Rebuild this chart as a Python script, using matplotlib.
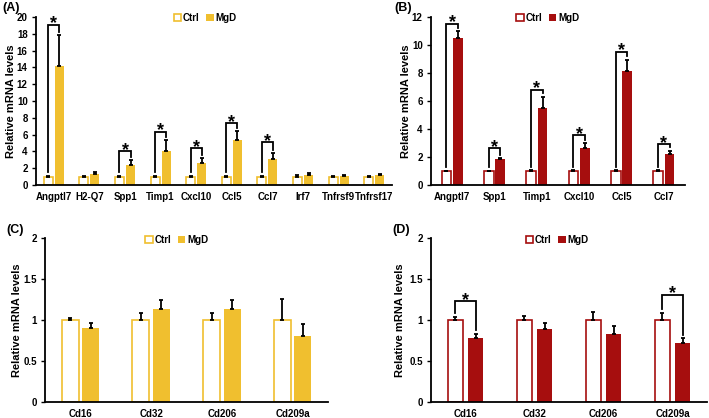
import numpy as np
import matplotlib
matplotlib.use('Agg')
import matplotlib.pyplot as plt
from matplotlib.ticker import FuncFormatter

plt.rcParams['font.family'] = ['Liberation Sans', 'DejaVu Sans']
plt.rcParams['font.weight'] = 'bold'

gold = '#F0BF2F'
red = '#A60E0E'

# (A) microglia-like genes, gold
genes_a = ['Angptl7', 'H2-Q7', 'Spp1', 'Timp1', 'Cxcl10', 'Ccl5', 'Ccl7', 'Irf7', 'Tnfrsf9', 'Tnfrsf17']
ctrl_a = [1, 1, 1, 1, 1, 1, 1, 1, 1, 1]
ctrl_a_err = [0.1, 0.12, 0.12, 0.1, 0.12, 0.1, 0.1, 0.15, 0.12, 0.1]
mgd_a = [14.2, 1.3, 2.35, 4.1, 2.65, 5.3, 3.1, 1.22, 1.02, 1.15]
mgd_a_err = [3.6, 0.28, 0.6, 1.2, 0.55, 1.1, 0.7, 0.2, 0.12, 0.18]
sig_a = [0, 2, 3, 4, 5, 6]
bracket_a = [19.1, 4.0, 6.3, 4.35, 7.35, 5.1]

# (B) red panel
genes_b = ['Angptl7', 'Spp1', 'Timp1', 'Cxcl10', 'Ccl5', 'Ccl7']
ctrl_b = [1, 1, 1, 1, 1, 1]
ctrl_b_err = [0.03, 0.03, 0.05, 0.06, 0.05, 0.04]
mgd_b = [10.5, 1.85, 5.47, 2.63, 8.15, 2.2]
mgd_b_err = [0.47, 0.08, 0.83, 0.36, 0.8, 0.25]
sig_b = [0, 1, 2, 3, 4, 5]
bracket_b = [11.5, 2.63, 6.8, 3.55, 9.5, 2.9]

# (C) and (D) receptor genes
genes_cd = ['Cd16', 'Cd32', 'Cd206', 'Cd209a']
ctrl_c = [1, 1, 1, 1]
ctrl_c_err = [0.03, 0.085, 0.085, 0.26]
mgd_c = [0.9, 1.13, 1.13, 0.805]
mgd_c_err = [0.065, 0.12, 0.12, 0.145]

ctrl_d = [1, 1, 1, 1]
ctrl_d_err = [0.04, 0.045, 0.1, 0.09]
mgd_d = [0.78, 0.885, 0.835, 0.725]
mgd_d_err = [0.055, 0.075, 0.095, 0.05]
sig_d = [0, 3]
bracket_d = [1.23, 1.31]


def panel(ax, genes, ctrl, ctrl_err, mgd, mgd_err, color, ymax, ystep,
          sig, brackets, width, off, leg_x, ylab_x):
    x = np.arange(len(genes))
    ax.bar(x - off, ctrl, width, facecolor='white', edgecolor=color, linewidth=1.2, label='Ctrl')
    ax.bar(x + off, mgd, width, color=color, label='MgD')
    ax.errorbar(x - off, ctrl, yerr=[np.zeros(len(x)), ctrl_err], fmt='none',
                ecolor='black', elinewidth=1.3, capsize=1.5, capthick=1.3)
    ax.errorbar(x + off, mgd, yerr=[np.zeros(len(x)), mgd_err], fmt='none',
                ecolor='black', elinewidth=1.3, capsize=1.5, capthick=1.3)
    pad = 0.02 * ymax
    for i, top in zip(sig, brackets):
        yl = ctrl[i] + ctrl_err[i] + pad
        yr = mgd[i] + mgd_err[i] + pad
        ax.plot([i - off, i - off, i + off, i + off], [yl, top, top, yr],
                color='black', lw=1.3, solid_joinstyle='miter')
        ax.annotate('*', (i, top), xytext=(0, -2.5), textcoords='offset points',
                    ha='center', va='baseline', fontsize=13, fontweight='bold')
    ax.set_xlim(-0.5, len(genes) - 0.5)
    ax.set_ylim(0, ymax)
    ax.set_yticks(np.arange(0, ymax + ystep / 2, ystep))
    ax.yaxis.set_major_formatter(FuncFormatter(lambda v, p: '%g' % v))
    ax.set_xticks(x)
    ax.set_xticklabels(genes)
    ax.tick_params(axis='x', length=0, labelsize=7, pad=5)
    ax.tick_params(axis='y', length=3, width=1, labelsize=7, pad=3)
    for s in ['top', 'right']:
        ax.spines[s].set_visible(False)
    for s in ['left', 'bottom']:
        ax.spines[s].set_linewidth(1.3)
    ax.set_ylabel('Relative mRNA levels', fontsize=8, fontweight='bold')
    ax.yaxis.set_label_coords(ylab_x, 0.5)
    ax.legend(loc='upper center', bbox_to_anchor=(leg_x, 1.045), ncol=2, frameon=False,
              fontsize=7, handlelength=0.75, handleheight=0.75, handletextpad=0.2,
              columnspacing=0.7, borderaxespad=0)


fig = plt.figure(figsize=(7.09, 4.18), dpi=100)
W, H = 709, 418


def add_axes(left, right, bottom, top):
    return fig.add_axes([left / W, 1 - bottom / H, (right - left) / W, (bottom - top) / H])


ax_a = add_axes(36, 392, 185, 17)
ax_b = add_axes(431, 685, 185, 17)
ax_c = add_axes(45, 328, 402, 238)
ax_d = add_axes(431, 707, 402, 238)

panel(ax_a, genes_a, ctrl_a, ctrl_a_err, mgd_a, mgd_a_err, gold, 20, 2,
      sig_a, bracket_a, 0.25, 0.155, 0.475, -0.055)
panel(ax_b, genes_b, ctrl_b, ctrl_b_err, mgd_b, mgd_b_err, red, 12, 2,
      sig_b, bracket_b, 0.23, 0.135, 0.46, -0.08)
panel(ax_c, genes_cd, ctrl_c, ctrl_c_err, mgd_c, mgd_c_err, gold, 2, 0.5,
      [], [], 0.24, 0.145, 0.466, -0.081)
panel(ax_d, genes_cd, ctrl_d, ctrl_d_err, mgd_d, mgd_d_err, red, 2, 0.5,
      sig_d, bracket_d, 0.23, 0.145, 0.457, -0.094)

for lbl, px, py in [('(A)', 2, 8), ('(B)', 394, 8), ('(C)', 6, 230), ('(D)', 392, 230)]:
    fig.text(px / W, 1 - py / H, lbl, fontsize=9, fontweight='bold', va='center', ha='left')

fig.savefig('out.png', dpi=100)
